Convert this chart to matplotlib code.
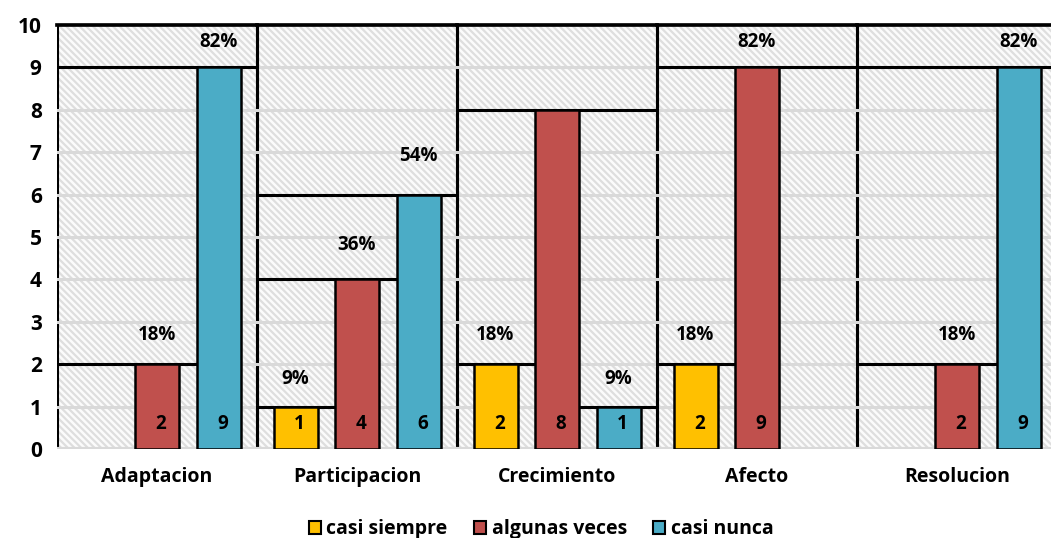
import matplotlib
matplotlib.use("Agg")
import matplotlib.pyplot as plt
from matplotlib.patches import Rectangle, Patch
import numpy as np

# ---- data ----
categories = ["Adaptacion", "Participacion", "Crecimiento", "Afecto", "Resolucion"]
series_names = ["casi siempre", "algunas veces", "casi nunca"]
casi_siempre = [0, 1, 2, 2, 0]
algunas_veces = [2, 4, 8, 9, 2]
casi_nunca = [9, 6, 1, 0, 9]
pct_casi_siempre = ["", "9%", "18%", "18%", ""]
pct_algunas_veces = ["18%", "36%", "", "82%", "18%"]
pct_casi_nunca = ["82%", "54%", "9%", "", "82%"]
y_ticks = list(range(0, 11))

colors = ["#FFC000", "#C0504D", "#4BACC6"]
values = [casi_siempre, algunas_veces, casi_nunca]
pcts = [pct_casi_siempre, pct_algunas_veces, pct_casi_nunca]

plt.rcParams['font.family'] = ['Open Sans', 'DejaVu Sans']
plt.rcParams['hatch.linewidth'] = 1.6

W, H = 1051, 538
fig = plt.figure(figsize=(W / 100, H / 100), dpi=100)
ax = fig.add_axes([57 / W, 89 / H, 1000 / W, 424 / H])
ax.set_xlim(-0.5, len(categories) - 0.5)
ax.set_ylim(0, 10)

# hatched background
bg = Rectangle((0, 0), 1, 1, transform=ax.transAxes, facecolor='#fbfbfb',
               edgecolor='#dedede', linewidth=0, hatch='\\\\\\\\\\', zorder=0.5)
ax.add_patch(bg)

step = 0.3075
bw = 0.22
offsets = [-step, 0, step]
ymax = 10

# gridlines
for t in y_ticks[1:-1]:
    ax.axhline(t, color='#d9d9d9', lw=2.2, zorder=1.5)
ax.axhline(0, color='#d9d9d9', lw=3, zorder=1.5)

lw_box = 2.2
for c in range(len(categories)):
    left, right = c - 0.5, c + 0.5
    ax.plot([left, left], [0, ymax], color='black', lw=lw_box, zorder=1, solid_capstyle='butt')
    ax.plot([right, right], [0, ymax], color='black', lw=lw_box, zorder=1, solid_capstyle='butt')
    ax.plot([left, right], [ymax, ymax], color='black', lw=lw_box * 1.2, zorder=2, clip_on=False)
    vals = [values[s][c] for s in range(3)]
    for i, v in enumerate(vals):
        if v <= 0:
            continue
        x0, x1 = left, right
        for j in range(i - 1, -1, -1):
            if vals[j] > v:
                x0 = c + offsets[j] + bw / 2
                break
        for j in range(i + 1, 3):
            if vals[j] > v:
                x1 = c + offsets[j] - bw / 2
                break
        ax.plot([x0, x1], [v, v], color='black', lw=lw_box, zorder=2, solid_capstyle='projecting')

# bars
xs = np.arange(len(categories))
for s in range(3):
    vs = np.array(values[s], dtype=float)
    nz = vs > 0
    ax.bar((xs + offsets[s])[nz], vs[nz], width=bw, color=colors[s], edgecolor='black',
           linewidth=1.8, zorder=3, label=series_names[s])
    for c in range(len(categories)):
        v = values[s][c]
        if v > 0:
            ax.text(c + offsets[s] + 0.02, 0.6, str(v), ha='center', va='center',
                    fontsize=13.5, fontweight='bold', zorder=4)
        lab = pcts[s][c]
        if lab:
            y = min(v + 0.6 + 0.05 * v, 9.6)
            t = ax.text(c + offsets[s], y, lab, ha='center', va='center',
                        fontsize=13.5, fontweight='bold', zorder=4)
            if lab == "54%":
                clip = Rectangle((c - 0.5, 0), 1, 6.98, transform=ax.transData)
                t.set_clip_path(clip)

ax.set_yticks(y_ticks)
ax.set_yticklabels([str(t) for t in y_ticks], fontsize=15, fontweight='bold')
ax.set_xticks(xs)
ax.set_xticklabels(categories, fontsize=14, fontweight='bold')
ax.tick_params(axis='both', length=0)
ax.tick_params(axis='y', pad=11)
ax.tick_params(axis='x', pad=13)
for sp in ax.spines.values():
    sp.set_visible(False)

handles = [Patch(facecolor=colors[s], edgecolor='black', linewidth=1.5) for s in range(3)]
fig.legend(handles, series_names, loc='lower center', bbox_to_anchor=(0.515, -0.035), ncol=3,
           frameon=False, prop={'weight': 'bold', 'size': 14}, handlelength=0.62,
           handleheight=0.62, handletextpad=0.3, columnspacing=1.35)

fig.savefig("out.png", dpi=100)
